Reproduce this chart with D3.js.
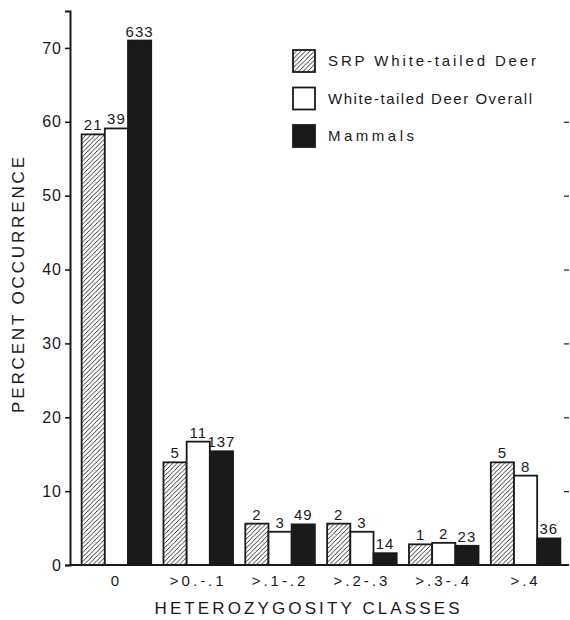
<!DOCTYPE html>
<html>
<head>
<meta charset="utf-8">
<script src="https://cdn.jsdelivr.net/npm/d3@7"></script>
<style>
  body { margin: 0; background: #fff; }
  svg { display: block; }
  text { font-family: "Liberation Sans", "DejaVu Sans", sans-serif; fill: #1a1a1a; }
</style>
</head>
<body>
<div id="chart"></div>
<script>
// data (percent occurrence, counts above bars)
const classes = ["0", ">0.-.1", ">.1-.2", ">.2-.3", ">.3-.4", ">.4"];
const seriesNames = ["SRP White-tailed Deer", "White-tailed Deer Overall", "Mammals"];
const srpPct = [58.3, 13.9, 5.6, 5.6, 2.8, 13.9];
const overallPct = [59.1, 16.7, 4.5, 4.5, 3.0, 12.1];
const mammalPct = [71.0, 15.4, 5.5, 1.6, 2.6, 3.6];
const srpCount = [21, 5, 2, 2, 1, 5];
const overallCount = [39, 11, 3, 3, 2, 8];
const mammalCount = [633, 137, 49, 14, 23, 36];
const yTicks = [0, 10, 20, 30, 40, 50, 60, 70];
const rightTicks = [10, 20, 30, 40, 50, 60];

const width = 570, height = 620;
const ink = "#1a1a1a";

const svg = d3.select("#chart").append("svg")
  .attr("width", width)
  .attr("height", height);

// hatch for the SRP bars
svg.append("defs").append("pattern")
  .attr("id", "hatch")
  .attr("patternUnits", "userSpaceOnUse")
  .attr("width", 4.5)
  .attr("height", 4.5)
  .append("path")
    .attr("d", "M0,4.5 L4.5,0 M-1,1 L1,-1 M3.5,5.5 L5.5,3.5")
    .attr("stroke", ink)
    .attr("stroke-width", 0.9);

const yScale = d3.scaleLinear()
  .domain([0, 75])
  .range([565, 11]);

const xScale = d3.scaleBand()
  .domain(classes)
  .range([71, 571])
  .paddingInner(0.15)
  .paddingOuter(0.13);

const xSub = d3.scaleBand()
  .domain(seriesNames)
  .range([0, xScale.bandwidth()]);

const fills = ["url(#hatch)", "#fff", ink];

const rows = classes.map((c, i) => ({
  cls: c,
  vals: [
    { s: seriesNames[0], v: srpPct[i], n: srpCount[i] },
    { s: seriesNames[1], v: overallPct[i], n: overallCount[i] },
    { s: seriesNames[2], v: mammalPct[i], n: mammalCount[i] }
  ]
}));

// bars
const groups = svg.selectAll(".grp")
  .data(rows)
  .enter().append("g")
    .attr("class", "grp")
    .attr("transform", d => `translate(${xScale(d.cls)},0)`);

groups.selectAll("rect")
  .data(d => d.vals)
  .enter().append("rect")
    .attr("x", d => xSub(d.s))
    .attr("y", d => yScale(d.v))
    .attr("width", xSub.bandwidth())
    .attr("height", d => yScale(0) - yScale(d.v))
    .attr("fill", (d, i) => fills[i])
    .attr("stroke", ink)
    .attr("stroke-width", 1.8);

groups.selectAll(".cnt")
  .data(d => d.vals)
  .enter().append("text")
    .attr("class", "cnt")
    .attr("x", d => xSub(d.s) + xSub.bandwidth() / 2)
    .attr("y", d => yScale(d.v) - 4)
    .attr("text-anchor", "middle")
    .attr("font-size", 15)
    .attr("letter-spacing", 1)
    .text(d => d.n);

// left axis
const yAxis = svg.append("g")
  .attr("transform", "translate(70,0)")
  .call(d3.axisLeft(yScale).tickValues(yTicks).tickSize(5).tickPadding(3));
yAxis.select(".domain").attr("stroke", ink).attr("stroke-width", 2);
yAxis.selectAll(".tick line").attr("stroke", ink).attr("stroke-width", 1.6);
yAxis.selectAll(".tick text")
  .attr("font-size", 16)
  .attr("letter-spacing", 1)
  .attr("fill", ink)
  .attr("font-family", "Liberation Sans, sans-serif");

// faint ticks at the right edge
const rAxis = svg.append("g")
  .attr("transform", "translate(569,0)")
  .call(d3.axisLeft(yScale).tickValues(rightTicks).tickSize(5).tickFormat(""));
rAxis.select(".domain").remove();
rAxis.selectAll(".tick line").attr("stroke", ink).attr("stroke-width", 1.2);

// bottom axis
const xAxis = svg.append("g")
  .attr("transform", `translate(0,${yScale(0)})`)
  .call(d3.axisBottom(xScale).tickSize(0).tickPadding(10));
xAxis.select(".domain")
  .attr("d", `M69,0H569`)
  .attr("stroke", ink)
  .attr("stroke-width", 2);
xAxis.selectAll(".tick text")
  .attr("font-size", 15)
  .attr("letter-spacing", 3)
  .attr("fill", ink)
  .attr("font-family", "Liberation Sans, sans-serif");

// axis titles
svg.append("text")
  .attr("transform", "translate(24,285) rotate(-90)")
  .attr("text-anchor", "middle")
  .attr("font-size", 17)
  .attr("textLength", 256)
  .attr("lengthAdjust", "spacing")
  .text("PERCENT OCCURRENCE");

svg.append("text")
  .attr("x", 307)
  .attr("y", 614)
  .attr("text-anchor", "middle")
  .attr("font-size", 17)
  .attr("textLength", 305)
  .attr("lengthAdjust", "spacing")
  .text("HETEROZYGOSITY CLASSES");

// legend
const legend = svg.append("g")
  .attr("transform", "translate(293,50)");

const items = legend.selectAll(".item")
  .data(seriesNames)
  .enter().append("g")
    .attr("class", "item")
    .attr("transform", (d, i) => `translate(0,${i * 37.5})`);

items.append("rect")
  .attr("width", 22)
  .attr("height", 22)
  .attr("fill", (d, i) => fills[i])
  .attr("stroke", ink)
  .attr("stroke-width", 1.8);

const legendLen = [208, 204, 86];
items.append("text")
  .attr("x", 35)
  .attr("y", 16)
  .attr("font-size", 15)
  .attr("font-weight", 500)
  .attr("textLength", (d, i) => legendLen[i])
  .attr("lengthAdjust", "spacing")
  .text(d => d);
</script>
</body>
</html>
